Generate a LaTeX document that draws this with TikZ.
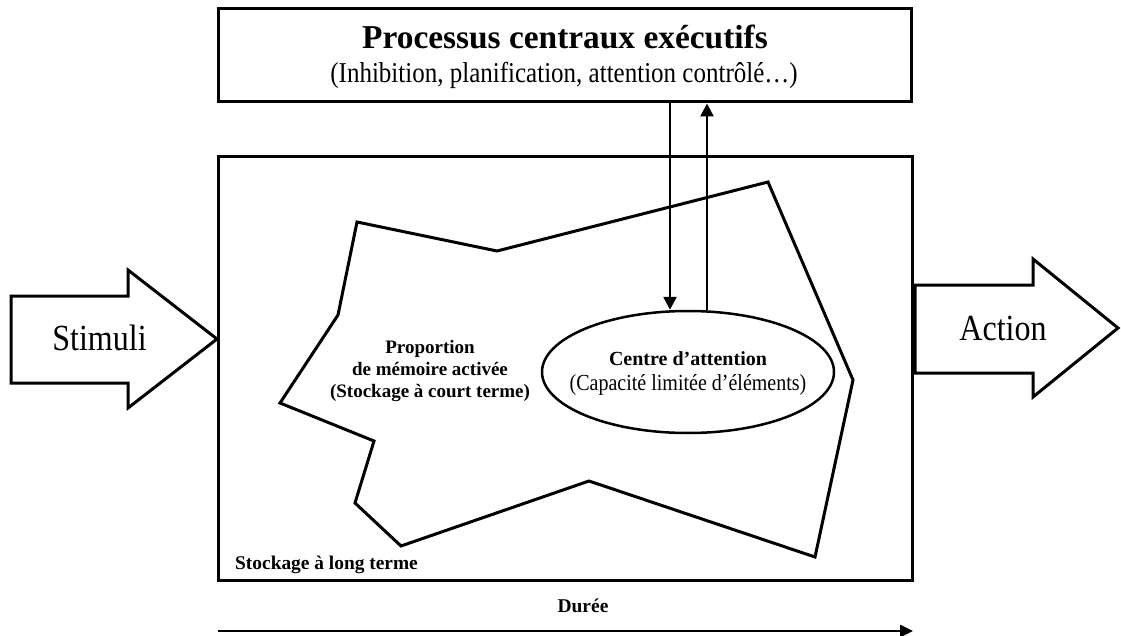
\documentclass[tikz,border=0pt]{standalone}
\usepackage{fontspec}
\setmainfont{Liberation Serif}
\usetikzlibrary{arrows.meta,shapes.geometric}
\newcommand{\tallify}[1]{\scalebox{1}[1.15]{#1}}
\tikzset{
  boxline/.style={draw=black,line width=3pt},
  polyline/.style={draw=black,line width=3pt,line join=miter},
  arr/.style={line width=2.5pt,-{Triangle[length=13pt,width=13pt]}},
  txt/.style={inner sep=0pt,anchor=base},
}
\begin{document}
\begin{tikzpicture}[x=1pt,y=-1pt]
\useasboundingbox (0,0) rectangle (1121,636);
% top box
\node[boxline,rectangle,minimum width=693pt,minimum height=93pt,inner sep=0pt] (top) at (564.5,55.5) {};
\node[txt,font=\bfseries\fontsize{33.4}{38}\selectfont] (title) at (565,49) {Processus centraux exécutifs};
\node[txt,font=\fontsize{25}{29}\selectfont] (sub) at (564,83) {\tallify{(Inhibition, planification, attention contrôlé…)}};
% main box
\node[boxline,rectangle,minimum width=694pt,minimum height=423pt,inner sep=0pt] (lts) at (565,368.5) {};
\node[txt,anchor=base west,font=\bfseries\fontsize{19.4}{23}\selectfont] (ltslabel) at (235,569) {Stockage à long terme};
% polygon
\draw[polyline] (357,222) -- (497,251) -- (768,182) -- (853,380) -- (815,557) -- (589,481) -- (401,546) -- (355,503) -- (374,441) -- (280,403) -- (338,315) -- cycle;
\node[txt,font=\bfseries\fontsize{19}{22}\selectfont] (p1) at (430,353) {Proportion};
\node[txt,font=\bfseries\fontsize{19}{22}\selectfont] (p2) at (430,375) {de mémoire activée};
\node[txt,font=\bfseries\fontsize{19}{22}\selectfont] (p3) at (430,397) {(Stockage à court terme)};
% ellipse
\node[ellipse,draw=black,line width=2.5pt,minimum width=292pt,minimum height=122pt,inner sep=0pt,fill=white] (att) at (688,372) {};
\node[txt,font=\bfseries\fontsize{20}{23}\selectfont] (c1) at (688,365) {Centre d’attention};
\node[txt,font=\fontsize{20}{23}\selectfont] (c2) at (688,390) {\tallify{(Capacité limitée d’éléments)}};
% vertical arrows
\coordinate (dx) at (670,0);
\coordinate (ux) at (707,0);
\draw[arr] (top.south -| dx) -- (att.north -| dx);
\draw[arr] (att.north -| ux) -- (top.south -| ux);
% Stimuli block arrow
\draw[polyline] (11,296) -- (128,296) -- (128,270) -- (217,339) -- (128,408) -- (128,383) -- (11,383) -- cycle;
\node[txt,font=\fontsize{32}{36}\selectfont] (stim) at (99.5,350) {\tallify{Stimuli}};
% Action block arrow
\draw[polyline] (915,285) -- (1033,285) -- (1033,259) -- (1118,328) -- (1033,397) -- (1033,373) -- (915,373) -- cycle;
\node[txt,font=\fontsize{32}{36}\selectfont] (act) at (1003,340) {\tallify{Action}};
% Durée
\node[txt,font=\bfseries\fontsize{19.5}{23}\selectfont] (dur) at (583,612) {Durée};
\coordinate (d0) at (218,631);
\coordinate (d1) at (913,631);
\draw[line width=2.5pt,-{Triangle[length=13pt,width=12pt]}] (d0) -- (d1);
\end{tikzpicture}
\end{document}
